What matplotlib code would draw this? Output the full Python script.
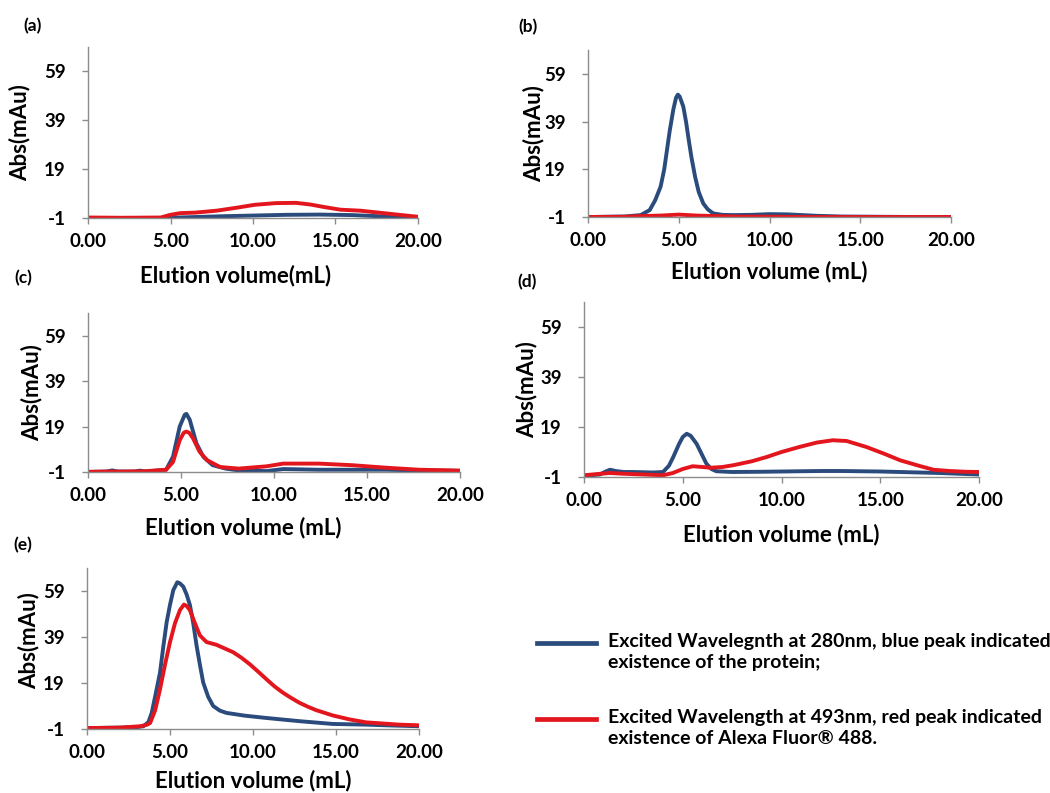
import numpy as np
import matplotlib
matplotlib.use("Agg")
import matplotlib.pyplot as plt
from matplotlib.lines import Line2D

plt.rcParams['font.family'] = ['Lato', 'DejaVu Sans']
plt.rcParams['font.weight'] = 'bold'
plt.rcParams['axes.unicode_minus'] = False

BLUE = '#2A4B7C'
RED = '#E3161E'
AXIS_GREY = '#8C8C8C'
WEIGHT = 'bold'

# elution profiles, (x in mL, absorbance in mAu)
a_blue_x = [0, 2, 4.5, 6, 8, 10, 12, 14, 16, 18, 20]
a_blue_y = [-1, -1, -1, -0.7, -0.3, 0.0, 0.3, 0.4, 0.2, -0.4, -0.8]
a_red_x = [0, 2, 4.4, 5.0, 5.6, 6.5, 7.8, 9.0, 10.1, 11.4, 12.6, 13.5, 14.3, 15.3, 16.5, 17.9, 19.0, 20]
a_red_y = [-0.8, -0.9, -0.8, 0.3, 1.0, 1.2, 2.0, 3.2, 4.4, 5.1, 5.2, 4.5, 3.5, 2.4, 2.0, 1.0, 0.2, -0.5]

b_blue_x = [0, 1, 2, 2.9, 3.4, 3.7, 4.0, 4.2, 4.35, 4.5, 4.7, 4.85, 4.95, 5.05, 5.25, 5.4, 5.55,
            5.7, 5.9, 6.1, 6.35, 6.6, 6.9, 7.4, 8.0, 9.0, 10.0, 11.0, 12.6, 14, 16, 18, 20]
b_blue_y = [-1, -0.9, -0.8, -0.2, 1.9, 6, 11.7, 19, 27, 35, 44, 49, 50.3, 49.5, 45.3, 39, 31.3,
            24, 15.9, 9.5, 4.7, 2.2, 0.5, -0.1, -0.2, -0.1, 0.2, 0.1, -0.5, -0.8, -0.9, -1, -1]
b_red_x = [0, 2, 3, 4, 5, 6, 7, 8, 10, 12, 15, 20]
b_red_y = [-1, -0.9, -0.6, -0.4, 0.0, -0.4, -0.6, -0.8, -0.9, -1, -1, -1]

c_blue_x = [0, 1.0, 1.3, 1.6, 2.5, 2.8, 3.1, 4.2, 4.57, 4.93, 5.2, 5.29, 5.47, 5.83, 6.2, 6.7, 7.4,
            8.1, 9.6, 10.5, 12.4, 14.2, 16.0, 17.8, 20]
c_blue_y = [-1, -0.8, -0.3, -0.8, -0.8, -0.4, -0.8, 0.0, 5.7, 19, 24.2, 24.6, 22, 11.6, 5.7, 2.0, 0.5,
            -0.3, -0.6, 0.3, 0.0, 0.0, 0.0, -0.3, -0.5]
c_red_x = [0, 1, 2, 3, 4.2, 4.57, 4.93, 5.15, 5.29, 5.45, 5.65, 6.0, 6.4, 7.1, 8.1, 9.6, 10.5,
           12.4, 14.2, 16.0, 17.8, 19.6, 20]
c_red_y = [-0.9, -0.8, -0.8, -0.7, 0.0, 3.4, 13, 16.3, 16.8, 16.2, 13.8, 7.9, 4.2, 1.2, 0.5, 1.5, 2.7,
           2.7, 2.0, 0.9, 0.0, -0.3, -0.4]

d_blue_x = [0, 0.8, 1.1, 1.32, 1.6, 2.0, 2.5, 3.0, 3.5, 4.0, 4.3, 4.52, 4.8, 5.0, 5.2, 5.4, 5.7, 6.0,
            6.2, 6.45, 6.7, 7.5, 9, 10, 11, 12, 13, 14, 15, 16, 17, 18, 19, 20]
d_blue_y = [-0.5, 0, 1.2, 1.9, 1.4, 1.0, 1.0, 0.9, 0.8, 1.0, 3.5, 7, 12, 15, 16.3, 15.5, 12.3, 7.5,
            4.3, 2.2, 1.3, 1.0, 1.1, 1.2, 1.3, 1.4, 1.4, 1.3, 1.2, 1.0, 0.8, 0.6, 0.3, 0]
d_red_x = [0, 0.7, 1.3, 2.0, 3.0, 4.0, 4.5, 5.0, 5.5, 6.0, 6.4, 7.0, 7.55, 8.5, 9.25, 10.0, 10.9,
           11.8, 12.6, 13.3, 14.3, 15.2, 16, 17, 17.7, 18.5, 19.3, 20]
d_red_y = [-0.3, 0.2, 0.6, 0.3, 0, -0.3, 0.6, 2.2, 3.3, 3.0, 2.7, 3.0, 3.7, 5.3, 7, 9, 11,
           12.8, 13.7, 13.4, 11, 8.3, 5.7, 3.4, 1.9, 1.4, 1.1, 1.0]

e_blue_x = [0, 1, 2, 3, 3.4, 3.7, 3.9, 4.1, 4.4, 4.6, 4.8, 5.0, 5.2, 5.44, 5.6, 5.8, 6.0, 6.2, 6.4,
            6.6, 6.8, 7.0, 7.3, 7.6, 8.0, 8.4, 9.5, 10.8, 12.8, 14.8, 16.8, 18.5, 20]
e_blue_y = [-0.6, -0.5, -0.4, -0.2, 0.2, 2, 6, 13, 23.6, 35, 45.5, 53, 59.4, 62.8, 62.3, 60.9, 57.5,
            52.9, 45, 35.3, 27, 19.2, 13, 9, 7, 6, 4.8, 3.8, 2.4, 1.2, 0.9, 0.5, 0.2]
e_red_x = [0, 1, 2, 3.2, 3.6, 3.8, 4.1, 4.4, 4.7, 5.0, 5.3, 5.6, 5.84, 6.0, 6.2, 6.5, 6.8, 7.2,
           7.8, 8.3, 8.8, 9.3, 9.8, 10.3, 10.8, 11.3, 11.8, 12.3, 12.8, 13.3, 13.8, 14.8, 15.8,
           16.8, 18.8, 20]
e_red_y = [-0.6, -0.5, -0.4, 0.2, 0.8, 1.6, 7, 16.3, 27, 36.8, 45, 50.7, 53.1, 52.5, 50.7, 45, 39.7,
           36.8, 35.6, 34, 32.4, 30, 27.2, 24, 20.7, 17.5, 14.8, 12.5, 10.4, 8.7, 7.2, 4.9, 3.2,
           1.9, 0.9, 0.6]

x_ticks = [0, 5, 10, 15, 20]
x_tick_labels = ['0.00', '5.00', '10.00', '15.00', '20.00']
y_ticks = [-1, 19, 39, 59]

legend_labels = ['Excited Wavelegnth at 280nm, blue peak indicated\nexistence of the protein;',
                 'Excited Wavelength at 493nm, red peak indicated\nexistence of Alexa Fluor\u00ae 488.']

W, H = 1050, 793
fig = plt.figure(figsize=(W / 100, H / 100), dpi=100)


def px_axes(left, right, top, bottom):
    return fig.add_axes([left / W, 1 - bottom / H, (right - left) / W, (bottom - top) / H])


# panel: letter, box in px, letter position, xlabel text, xlabel x pos, xlabel drop,
# ylabel offset, ylabel pos, data
panels = [
    ('(a)', (88, 418, 47, 218), (33, 26), 'Elution volume(mL)', 0.448, 58, 68, 0.5,
     (a_blue_x, a_blue_y, a_red_x, a_red_y)),
    ('(b)', (588, 951, 50, 217), (528, 27), 'Elution volume (mL)', 0.5, 55, 54, 0.5,
     (b_blue_x, b_blue_y, b_red_x, b_red_y)),
    ('(c)', (88, 460, 313, 472), (23, 278), 'Elution volume (mL)', 0.417, 56, 56, 0.5,
     (c_blue_x, c_blue_y, c_red_x, c_red_y)),
    ('(d)', (584, 979, 302, 477), (527, 282), 'Elution volume (mL)', 0.5, 58, 57, 0.5,
     (d_blue_x, d_blue_y, d_red_x, d_red_y)),
    ('(e)', (87, 419, 568, 729), (23, 545), 'Elution volume (mL)', 0.5, 52, 58, 0.55,
     (e_blue_x, e_blue_y, e_red_x, e_red_y)),
]

for letter, box, lpos, xlab, xlab_pos, xlab_drop, ylab_off, ylab_pos, data in panels:
    ax = px_axes(*box)
    bx, by, rx, ry = data
    ax.plot(bx, by, color=BLUE, lw=2.8, solid_joinstyle='round', solid_capstyle='round')
    ax.plot(rx, ry, color=RED, lw=2.8, solid_joinstyle='round', solid_capstyle='round')
    ax.set_xlim(0, 20)
    ax.set_ylim(-1, 69)
    ax.set_xticks(x_ticks)
    ax.set_xticklabels(x_tick_labels)
    ax.set_yticks(y_ticks)
    for s in ['top', 'right']:
        ax.spines[s].set_visible(False)
    for s in ['left', 'bottom']:
        ax.spines[s].set_color(AXIS_GREY)
        ax.spines[s].set_linewidth(1.0)
    ax.tick_params(axis='both', direction='out', length=4, width=1, color=AXIS_GREY,
                   labelsize=13.5, labelcolor='black')
    ax.tick_params(axis='x', pad=7)
    ax.tick_params(axis='y', pad=12)
    for t in ax.get_xticklabels() + ax.get_yticklabels():
        t.set_fontweight(WEIGHT)
    left, right, top, bottom = box
    h = bottom - top
    ax.set_xlabel(xlab, fontsize=16, fontweight=WEIGHT)
    ax.xaxis.set_label_coords(xlab_pos, -xlab_drop / h)
    ax.set_ylabel('Abs(mAu)', fontsize=16, fontweight=WEIGHT)
    ax.yaxis.set_label_coords(-ylab_off / (right - left), ylab_pos)
    ax.xaxis.label.set_va('center')
    ax.yaxis.label.set_va('center')
    fig.text(lpos[0] / W, 1 - lpos[1] / H, letter, fontsize=12.5, fontweight=WEIGHT,
             ha='center', va='center')

# legend drawn as free lines and text in figure coordinates
for color, label, yc in [(BLUE, legend_labels[0], 643), (RED, legend_labels[1], 719)]:
    fig.add_artist(Line2D([537 / W, 596 / W], [1 - yc / H, 1 - yc / H], color=color, lw=3.4))
    fig.text(608 / W, 1 - (yc - 10) / H, label, fontsize=14, fontweight=WEIGHT,
             ha='left', va='top', linespacing=1.3)

fig.savefig('out.png', dpi=100)
